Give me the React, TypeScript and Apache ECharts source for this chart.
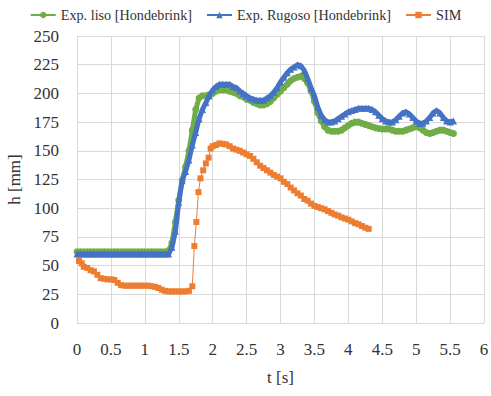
import React, { useEffect, useRef } from "react";
import * as echarts from "echarts";

const expTime = [
  0, 0.05, 0.1, 0.15, 0.2, 0.25, 0.3, 0.35, 0.4, 0.45, 0.5, 0.55, 0.6, 0.65, 0.7, 0.75, 0.8, 0.85, 0.9, 0.95,
  1.0, 1.05, 1.1, 1.15, 1.2, 1.25, 1.3, 1.35, 1.4, 1.45, 1.5, 1.55, 1.6, 1.65, 1.7, 1.75, 1.8, 1.85, 1.9, 1.95,
  2.0, 2.05, 2.1, 2.15, 2.2, 2.25, 2.3, 2.35, 2.4, 2.45, 2.5, 2.55, 2.6, 2.65, 2.7, 2.75, 2.8, 2.85, 2.9, 2.95,
  3.0, 3.05, 3.1, 3.15, 3.2, 3.25, 3.3, 3.35, 3.4, 3.45, 3.5, 3.55, 3.6, 3.65, 3.7, 3.75, 3.8, 3.85, 3.9, 3.95,
  4.0, 4.05, 4.1, 4.15, 4.2, 4.25, 4.3, 4.35, 4.4, 4.45, 4.5, 4.55, 4.6, 4.65, 4.7, 4.75, 4.8, 4.85, 4.9, 4.95,
  5.0, 5.05, 5.1, 5.15, 5.2, 5.25, 5.3, 5.35, 5.4, 5.45, 5.5, 5.55,
];

const lisoValues = [
  62, 62, 62, 62, 62, 62, 62, 62, 62, 62, 62, 62, 62, 62, 62, 62, 62, 62, 62, 62,
  62, 62, 62, 62, 62, 62, 62,
  63, 70, 88, 107, 124, 136, 150, 168, 186, 196,
  198, 198, 199, 200, 202, 203, 203, 203, 202, 201,
  200, 198, 197, 195, 194, 192, 191, 190, 190, 191,
  193, 196, 199, 202, 205, 208, 211, 213, 214, 215,
  213, 209, 202, 193, 183, 176, 171, 168, 167, 167,
  167, 168, 170, 172, 174, 175, 175, 174, 173, 172,
  171, 170, 169.5, 169, 169, 169, 168, 167, 167, 167,
  168, 169, 170, 171, 170, 168, 166, 165, 166, 167,
  168, 168, 167, 166, 165,
];

const rugosoValues = [
  60, 60, 60, 60, 60, 60, 60, 60, 60, 60, 60, 60, 60, 60, 60, 60, 60, 60, 60, 60,
  60, 60, 60, 60, 60, 60, 60,
  60, 66, 80, 105, 124, 132, 142, 155, 166, 178,
  186, 192, 198, 203, 206, 208, 208, 208, 208, 206,
  205, 202, 200, 198, 196, 195, 194, 194, 194, 196,
  198, 201, 205, 210, 214, 218, 221, 223, 225, 224,
  220, 213, 205, 198, 188, 181, 177, 175, 175, 176,
  178, 180, 182, 184, 185, 186, 187, 187, 187, 187,
  186, 184, 181, 178, 176, 175, 175, 177, 180, 183,
  184, 182, 179, 176, 174, 174, 176, 179, 183, 185,
  183, 179, 176, 175, 176,
];

const simTime = [
  0.03, 0.07, 0.1, 0.15, 0.2, 0.25, 0.3, 0.35, 0.4, 0.45, 0.5, 0.55, 0.6, 0.65, 0.7, 0.75, 0.8, 0.85, 0.9, 0.95,
  1.0, 1.05, 1.1, 1.15, 1.2, 1.25, 1.3, 1.35, 1.4, 1.45, 1.5, 1.55, 1.6, 1.65, 1.7, 1.73, 1.76, 1.79, 1.82, 1.86,
  1.9, 1.94, 1.97, 2.0, 2.05, 2.1, 2.15, 2.2, 2.25, 2.3, 2.35, 2.4, 2.45, 2.5, 2.55, 2.6, 2.65, 2.7, 2.75, 2.8,
  2.85, 2.9, 2.95, 3.0, 3.05, 3.1, 3.15, 3.2, 3.25, 3.3, 3.35, 3.4, 3.45, 3.5, 3.55, 3.6, 3.65, 3.7, 3.75, 3.8,
  3.85, 3.9, 3.95, 4.0, 4.05, 4.1, 4.15, 4.2, 4.25, 4.3,
];

const simValues = [
  54, 52, 49, 48, 46, 45, 42, 39, 38.5, 38, 38, 37.5, 35, 33, 32.5, 32.5, 32.5, 32.5, 32.5, 32.5,
  32.5, 32.5, 32, 31.5, 30.5, 29, 28, 27.5, 27.5, 27.5, 27.5, 27.5, 27.5, 28, 32, 67, 88, 114, 126, 133,
  139, 144, 152, 154, 155, 156.5, 156, 155.5, 154, 152, 151, 150, 148.5, 147, 145.5, 143, 140, 137, 135, 133,
  131, 129, 127.5, 126, 123, 121, 118, 115.5, 113, 111, 108, 106.5, 104, 102, 101, 100, 99, 97.5, 96, 94.5,
  93.5, 92, 91, 90, 88.5, 87, 86, 84.5, 83, 82,
];

const seriesNames = ["Exp. liso [Hondebrink]", "Exp. Rugoso [Hondebrink]", "SIM"];
const colors = ["#70AD47", "#4472C4", "#ED7D31"];

const FONT = "Liberation Serif, DejaVu Serif, serif";

export default function App() {
  const ref = useRef<HTMLDivElement>(null);

  useEffect(() => {
    if (!ref.current) return;
    const chart = echarts.init(ref.current, null, { renderer: "svg", width: 491, height: 396 });
    const txt = { fontFamily: FONT, color: "#333" };
    chart.setOption({
      animation: false,
      textStyle: { fontFamily: FONT },
      legend: {
        top: 3,
        left: "center",
        itemWidth: 25,
        itemHeight: 8,
        itemGap: 14,
        textStyle: { ...txt, fontSize: 14.2 },
        data: seriesNames,
      },
      grid: {
        left: 77,
        right: 7,
        top: 36,
        bottom: 73,
        containLabel: false,
        outerBoundsMode: "none",
      },
      xAxis: {
        type: "value",
        min: 0,
        max: 6,
        interval: 0.5,
        name: "t [s]",
        nameLocation: "middle",
        nameGap: 46,
        nameTextStyle: { ...txt, fontSize: 17 },
        axisLine: { show: true, lineStyle: { color: "#d9d9d9" } },
        axisTick: { show: false },
        axisLabel: { ...txt, fontSize: 17, margin: 18 },
        splitLine: { show: true, lineStyle: { color: "#d9d9d9" } },
      },
      yAxis: {
        type: "value",
        min: 0,
        max: 250,
        interval: 25,
        name: "h [mm]",
        nameLocation: "middle",
        nameGap: 50,
        nameTextStyle: { ...txt, fontSize: 17 },
        axisLine: { show: true, lineStyle: { color: "#d9d9d9" } },
        axisTick: { show: false },
        axisLabel: { ...txt, fontSize: 17, margin: 18 },
        splitLine: { show: true, lineStyle: { color: "#d9d9d9" } },
      },
      series: [
        {
          name: seriesNames[0],
          type: "line",
          data: expTime.map((t, i) => [t, lisoValues[i]]),
          symbol: "circle",
          symbolSize: 7,
          showSymbol: true,
          itemStyle: { color: colors[0] },
          lineStyle: { color: colors[0], width: 5 },
          z: 2,
        },
        {
          name: seriesNames[1],
          type: "line",
          data: expTime.map((t, i) => [t, rugosoValues[i]]),
          symbol: "triangle",
          symbolSize: 7,
          showSymbol: true,
          itemStyle: { color: colors[1] },
          lineStyle: { color: colors[1], width: 5 },
          z: 3,
        },
        {
          name: seriesNames[2],
          type: "line",
          data: simTime.map((t, i) => [t, simValues[i]]),
          symbol: "rect",
          symbolSize: 6,
          showSymbol: true,
          itemStyle: { color: colors[2] },
          lineStyle: { color: colors[2], width: 1 },
          z: 4,
        },
      ],
    });
    return () => chart.dispose();
  }, []);

  return (
    <div
      ref={ref}
      style={{ position: "absolute", left: 0, top: 0, width: 491, height: 396 }}
    />
  );
}
